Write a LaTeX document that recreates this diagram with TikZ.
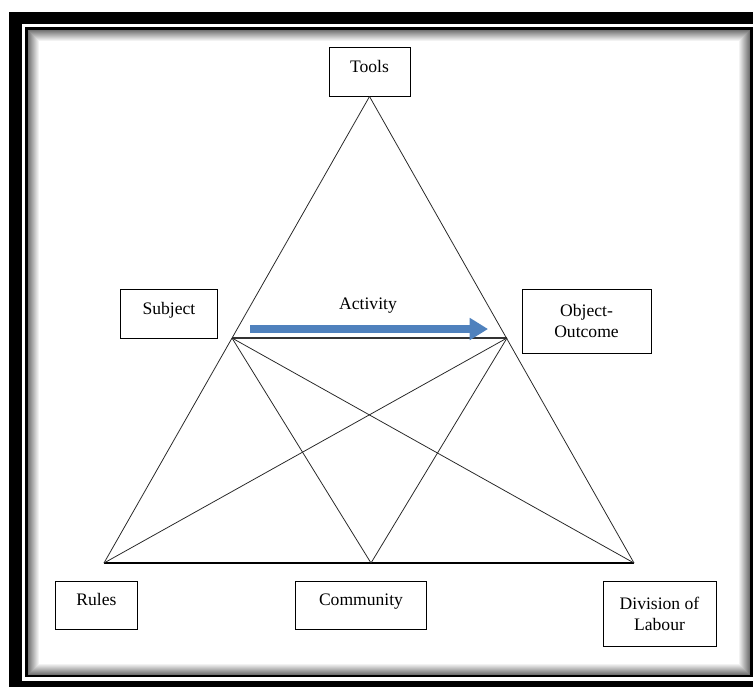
\documentclass[tikz,border=0pt]{standalone}
\usepackage{fontspec}
\setmainfont{Liberation Serif}
\usetikzlibrary{arrows.meta, positioning}
\definecolor{activity_blue}{RGB}{79,129,189}
\tikzset{
    box_node/.style={rectangle, text centered, align=center, draw=black, line width=0.7pt, inner sep=2pt, font=\fontsize{12.5}{15}\selectfont},
    one_line/.style={text height=9pt, text depth=8pt},
    label_text/.style={text centered, align=center, font=\fontsize{12.5}{15}\selectfont},
    thin_line/.style={line width=0.55pt, black!85},
    mid_line/.style={line width=1.1pt, black!80},
    thick_line/.style={line width=1.9pt},
    blue_arrow/.style={line width=5pt, -{Triangle[length=13pt, width=15pt]}, draw=activity_blue},
}

\begin{document}
\begin{tikzpicture}[x=0.025cm, y=-0.025cm]
      \clip (0,0) rectangle (753,686);
      \fill [black] (9,12) rectangle (800,800);
      \fill [white] (22,24) rectangle (780,681);
      \draw [line width=2.1pt] (26.5,28.5) rectangle (751.5,676);
      \foreach \i [evaluate=\i as \p using 55-5*\i] in {0,...,10}
          \draw [black!\p, line width=0.75pt] (28.5+\i,30.5+\i) rectangle (749.5-\i,674.5-\i);

      \node (tools) [box_node, one_line, minimum width=2.025cm, minimum height=1.225cm] at (369.5,71.5) {Tools};
      \node (subject) [box_node, one_line, minimum width=2.4cm, minimum height=1.225cm] at (169,313.5) {Subject};
      \node (object) [box_node, minimum width=3.225cm, minimum height=1.6cm] at (586.5,321) {Object-\\Outcome};
      \node (rules) [box_node, one_line, minimum width=2.025cm, minimum height=1.2cm] at (96.5,605) {Rules};
      \node (community) [box_node, one_line, minimum width=3.25cm, minimum height=1.2cm] at (361,605) {Community};
      \node (division) [box_node, minimum width=2.825cm, minimum height=1.625cm] at (659.5,613.5) {Division of\\Labour};
      \node (activity) [label_text] at (368,306) {Activity};

      \coordinate (subj_v) at (232,338);
      \coordinate (obj_v) at (507,338);
      \coordinate (rules_v) at (104,563);
      \coordinate (comm_v) at (371,563);
      \coordinate (div_v) at (634,563);
      \coordinate (act_start) at (250,329);
      \coordinate (act_end) at (488,329);

      \draw [thin_line] (tools.south) -- (rules_v);
      \draw [thin_line] (tools.south) -- (div_v);
      \draw [thick_line] (rules_v) -- (div_v);
      \draw [mid_line] (subj_v) -- (obj_v);

      \draw [thin_line] (subj_v) -- (comm_v);
      \draw [thin_line] (subj_v) -- (div_v);
      \draw [thin_line] (obj_v) -- (comm_v);
      \draw [thin_line] (obj_v) -- (rules_v);

      \draw [blue_arrow] (act_start) -- (act_end);
\end{tikzpicture}
\end{document}
